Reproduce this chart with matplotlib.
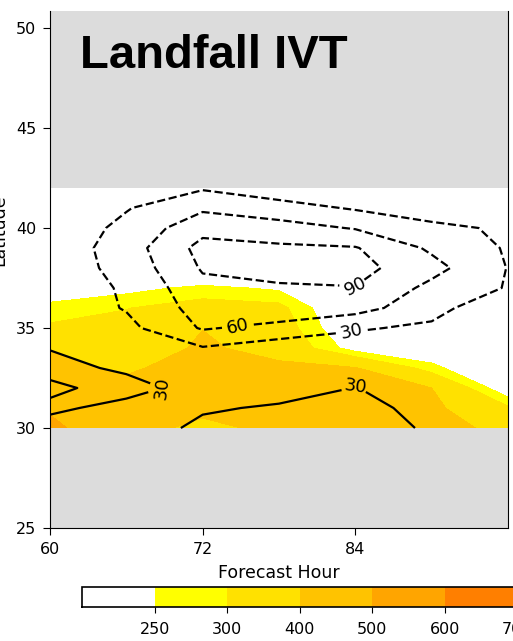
import numpy as np
import matplotlib
matplotlib.use("Agg")
import matplotlib.pyplot as plt

# ---------------- data ----------------
hours = [60, 66, 72, 78, 84, 90, 96]
lats = [30, 31, 32, 33, 34, 35, 36, 37, 38, 39, 40, 41, 42]

# IVT (filled), one list per forecast hour, lat 30 -> 42
ivt_h60 = [520, 490, 450, 420, 395, 310, 270, 200, 150, 120, 100, 80, 60]
ivt_h66 = [430, 430, 420, 390, 340, 320, 298, 230, 150, 110, 90, 70, 50]
ivt_h72 = [380, 420, 440, 430, 415, 398, 330, 265, 150, 100, 80, 60, 40]
ivt_h78 = [420, 440, 450, 420, 365, 340, 320, 240, 140, 100, 80, 60, 40]
ivt_h84 = [450, 470, 460, 405, 220, 180, 160, 130, 100, 80, 60, 40, 30]
ivt_h90 = [420, 420, 400, 270, 190, 150, 120, 100, 80, 60, 40, 30, 20]
ivt_h96 = [385, 310, 200, 150, 120, 100, 80, 60, 50, 40, 30, 20, 10]

# dashed contour field
dsh_h60 = [0, 0, 0, 0, 3, 5, 10, 15, 12, 10, 8, 5, 3]
dsh_h66 = [0, 0, 0, 5, 10, 22, 32, 33, 40, 45, 38, 28, 15]
dsh_h72 = [0, 2, 5, 15, 28, 63, 72, 82, 93, 100, 80, 55, 27]
dsh_h78 = [0, 0, 3, 8, 14, 50, 83, 88, 96, 95, 72, 42, 12]
dsh_h84 = [0, 0, 2, 6, 15, 33, 72, 89, 100, 92, 58, 27, 10]
dsh_h90 = [0, 0, 0, 3, 8, 25, 40, 52, 70, 55, 38, 12, 5]
dsh_h96 = [0, 0, 0, 0, 2, 4, 7, 28, 29, 27, 25, 10, 3]

# solid contour field
sol_h60 = [10, 40, 20, 45, 28, 10, 5, 0, 0, 0, 0, 0, 0]
sol_h66 = [5, 14, 48, 22, 10, 5, 0, 0, 0, 0, 0, 0, 0]
sol_h72 = [40, 25, 10, 5, 0, 0, 0, 0, 0, 0, 0, 0, 0]
sol_h78 = [50, 35, 12, 5, 0, 0, 0, 0, 0, 0, 0, 0, 0]
sol_h84 = [55, 45, 31, 20, 5, 0, 0, 0, 0, 0, 0, 0, 0]
sol_h90 = [23, 15, 10, 5, 0, 0, 0, 0, 0, 0, 0, 0, 0]
sol_h96 = [10, 5, 0, 0, 0, 0, 0, 0, 0, 0, 0, 0, 0]

ivt_levels = [0, 250, 300, 400, 500, 600, 700, 800]
ivt_colors = ["#ffffff", "#ffff00", "#ffe100", "#ffc300", "#ffa500", "#ff7f00", "#ff4000"]
cbar_ticks = [250, 300, 400, 500, 600, 700]
dash_levels = [30, 60, 90]
solid_levels = [30]
x_ticks = [60, 72, 84]
y_ticks = [25, 30, 35, 40, 45, 50]

# ---------------- figure ----------------
ivt = np.array([ivt_h60, ivt_h66, ivt_h72, ivt_h78, ivt_h84, ivt_h90, ivt_h96]).T
dsh = np.array([dsh_h60, dsh_h66, dsh_h72, dsh_h78, dsh_h84, dsh_h90, dsh_h96]).T
sol = np.array([sol_h60, sol_h66, sol_h72, sol_h78, sol_h84, sol_h90, sol_h96]).T

W, H = 513, 641
fig = plt.figure(figsize=(W / 100, H / 100), dpi=100)
ax = fig.add_axes([50 / W, (H - 528) / H, 458 / W, 517 / H])
ax.set_facecolor("#dcdcdc")
ax.spines["top"].set_visible(False)

cf = ax.contourf(hours, lats, ivt, levels=ivt_levels, colors=ivt_colors)
cs1 = ax.contour(hours, lats, dsh, levels=dash_levels, colors="k",
                 linestyles="dashed", linewidths=1.6)
cs2 = ax.contour(hours, lats, sol, levels=solid_levels, colors="k",
                 linewidths=1.6)
ax.clabel(cs1, fmt="%d", fontsize=13,
          manual=[(74.8, 35.05), (83.7, 34.85), (84.0, 37.1)])
ax.clabel(cs2, fmt="%d", fontsize=13, manual=[(68.8, 32.0), (84.0, 32.1)])

ax.set_xlim(60, 96)
ax.set_ylim(25, 50.85)
ax.set_xticks(x_ticks)
ax.set_yticks(y_ticks)
ax.tick_params(labelsize=11.5, length=5, pad=5)
ax.set_xlabel("Forecast Hour", fontsize=12.5, labelpad=5)
ax.set_ylabel("Latitude", fontsize=12.5)
ax.yaxis.set_label_coords((8 - 50) / 458, (528 - 230) / 517)

fig.text(80 / W, 1 - 68 / H, "Landfall IVT", fontsize=34, fontweight="bold",
         family="Liberation Sans", ha="left", va="baseline")

cax = fig.add_axes([82 / W, (H - 607) / H, 508 / W, 20 / H])
cb = fig.colorbar(cf, cax=cax, orientation="horizontal", ticks=cbar_ticks)
cb.ax.tick_params(labelsize=11.5, length=4.5, pad=6)
cb.outline.set_linewidth(1.2)

fig.savefig("out.png", dpi=100)
